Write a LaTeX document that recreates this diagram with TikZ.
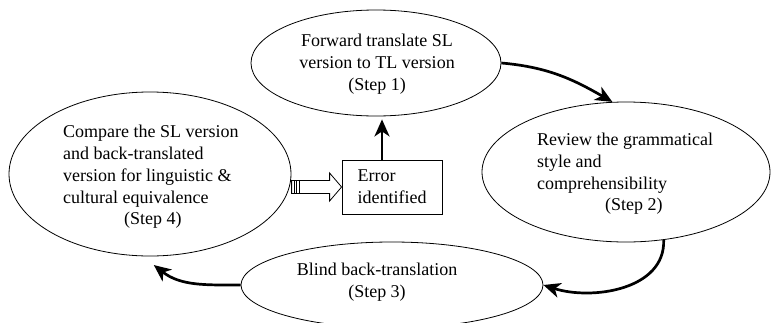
\documentclass[tikz,border=0pt]{standalone}
\usepackage{fontspec}
\setmainfont{Liberation Serif}
\usetikzlibrary{arrows.meta,calc,shapes.geometric}
\begin{document}
\begin{tikzpicture}[x=1pt,y=-1pt,
  stage/.style={draw,ellipse,line width=0.8pt,inner sep=0pt},
  lbl/.style={font=\fontsize{18}{21.7}\selectfont,inner sep=0pt},
  flow/.style={line width=2.7pt,-{Stealth[length=17pt,width=15pt,inset=5pt]}},
  errbox/.style={draw,line width=0.8pt,minimum width=100pt,minimum height=54pt,
    align=left,font=\fontsize{18}{21.7}\selectfont}]
\useasboundingbox (0,0) rectangle (772,322);

% the four stages
\node[stage,minimum width=250pt,minimum height=106pt] (s1) at (376,63) {};
\node[stage,minimum width=288pt,minimum height=140pt] (s2) at (626,172) {};
\node[stage,minimum width=302pt,minimum height=86pt] (s3) at (392,285) {};
\node[stage,minimum width=282pt,minimum height=164pt] (s4) at (150,174) {};

\node[lbl,align=center] (t1) at (377,64) {Forward translate SL\\version to TL version\\(Step 1)};
\node[lbl,align=left,anchor=west] (t2) at (537,174) {Review the grammatical\\style and\\comprehensibility\\\hspace*{68pt}(Step 2)};
\node[lbl,align=center] (t3) at (377,282) {Blind back-translation\\(Step 3)};
\node[lbl,align=left,anchor=west] (t4) at (63,177) {Compare the SL version\\and back-translated\\version for linguistic \&\\cultural equivalence\\\hspace*{61pt}(Step 4)};

% error check
\node[errbox] (err) at (392,187) {Error\\identified};

% cycle of steps
\draw[flow] (s1.east) to[out=-5,in=150] (s2.101);
\draw[flow] (s2.299) to[out=-88,in=-18] (s3.east);
\draw[flow,shorten >=1pt] (s3.west) to[out=180,in=-38] ($(s4.south)+(3,8)$);

% back to step 1
\draw[flow,shorten >=3pt] ([xshift=-10pt]err.north) -- ([xshift=-10pt]err.north |- s1.south);

% hollow block arrow into the error box
\draw[line width=0.8pt,fill=white]
  ($(err.west)+(-50,-6.5)$) -- ($(err.west)+(-12,-6.5)$) -- ($(err.west)+(-12,-14)$)
  -- (err.west) -- ($(err.west)+(-12,14)$) -- ($(err.west)+(-12,6.5)$)
  -- ($(err.west)+(-50,6.5)$) -- cycle;
\foreach \dx in {-50,-47.5,-45,-42.5}
  \draw[line width=1.1pt] ($(err.west)+(\dx,-6.5)$) -- ($(err.west)+(\dx,6.5)$);
\end{tikzpicture}
\end{document}
